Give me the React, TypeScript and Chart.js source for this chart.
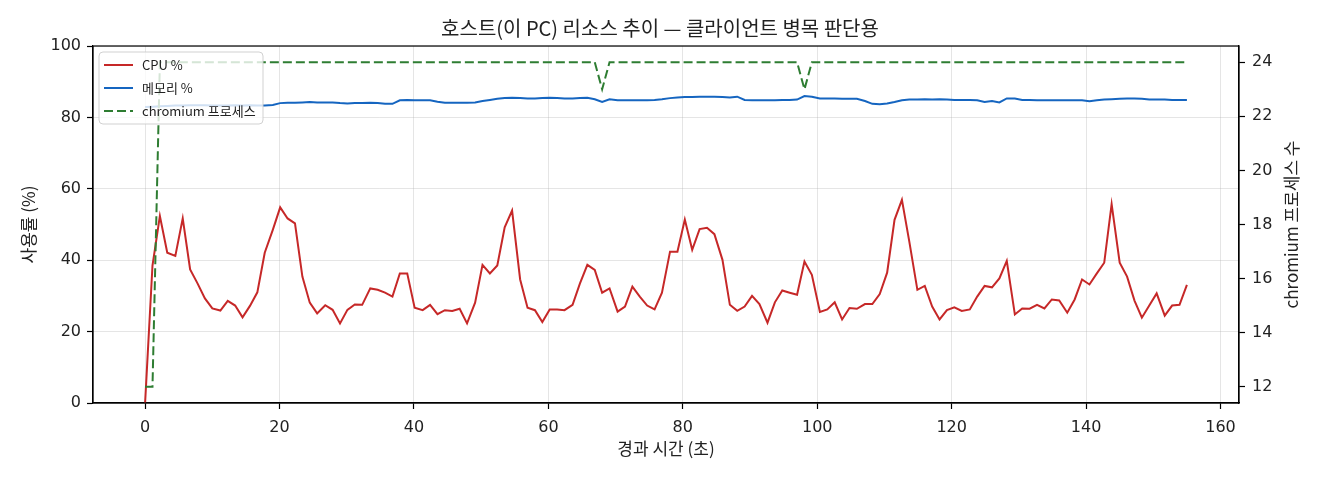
import React, { useEffect, useRef } from "react";
import { Chart, registerables } from "chart.js";

Chart.register(...registerables);

const TITLE = "호스트(이 PC) 리소스 추이 — 클라이언트 병목 판단용";
const X_LABEL = "경과 시간 (초)";
const Y_LEFT_LABEL = "사용률 (%)";
const Y_RIGHT_LABEL = "chromium 프로세스 수";
const SERIES_NAMES = ["CPU %", "메모리 %", "chromium 프로세스"];

// elapsed seconds of each sample
const times = [
  0, 1.1, 2.2, 3.3, 4.5, 5.6, 6.7, 7.8, 8.9, 10.0,
  11.2, 12.3, 13.4, 14.5, 15.6, 16.7, 17.8, 19.0, 20.1, 21.2,
  22.3, 23.4, 24.5, 25.6, 26.8, 27.9, 29.0, 30.1, 31.2, 32.3,
  33.5, 34.6, 35.7, 36.8, 37.9, 39.0, 40.1, 41.3, 42.4, 43.5,
  44.6, 45.7, 46.8, 47.9, 49.1, 50.2, 51.3, 52.4, 53.5, 54.6,
  55.8, 56.9, 58.0, 59.1, 60.2, 61.3, 62.4, 63.6, 64.7, 65.8,
  66.9, 68.0, 69.1, 70.3, 71.4, 72.5, 73.6, 74.7, 75.8, 76.9,
  78.1, 79.2, 80.3, 81.4, 82.5, 83.6, 84.7, 85.9, 87.0, 88.1,
  89.2, 90.3, 91.4, 92.6, 93.7, 94.8, 95.9, 97.0, 98.1, 99.2,
  100.4, 101.5, 102.6, 103.7, 104.8, 105.9, 107.1, 108.2, 109.3, 110.4,
  111.5, 112.6, 113.7, 114.9, 116.0, 117.1, 118.2, 119.3, 120.4, 121.5,
  122.7, 123.8, 124.9, 126.0, 127.1, 128.2, 129.4, 130.5, 131.6, 132.7,
  133.8, 134.9, 136.0, 137.2, 138.3, 139.4, 140.5, 141.6, 142.7, 143.8,
  145.0, 146.1, 147.2, 148.3, 149.4, 150.5, 151.7, 152.8, 153.9, 155.0,
];

const cpu = [
  0, 38.5, 52.4, 42.1, 41.2, 51.7, 37.4, 33.5, 29.3, 26.5,
  25.9, 28.6, 27.3, 24.0, 27.2, 31.0, 42.1, 48.5, 54.8, 51.7,
  50.3, 35.4, 28.1, 25.1, 27.4, 26.1, 22.3, 26.1, 27.6, 27.5,
  32.1, 31.7, 30.9, 29.8, 36.3, 36.3, 26.7, 26.0, 27.5, 24.9,
  26.0, 25.8, 26.4, 22.3, 28.1, 38.7, 36.3, 38.5, 49.2, 53.9,
  34.6, 26.7, 26.0, 22.7, 26.2, 26.2, 26.0, 27.5, 33.5, 38.7,
  37.3, 30.9, 32.1, 25.6, 27.0, 32.6, 29.8, 27.3, 26.2, 30.9,
  42.4, 42.4, 51.4, 42.9, 48.7, 49.1, 47.3, 40.1, 27.5, 25.8,
  27.0, 30.0, 27.7, 22.5, 28.2, 31.5, 30.9, 30.3, 39.6, 35.9,
  25.5, 26.2, 28.2, 23.4, 26.6, 26.4, 27.7, 27.7, 30.5, 36.5,
  51.3, 56.9, 45.2, 31.7, 32.8, 27.0, 23.4, 26.0, 26.8, 25.8,
  26.2, 29.8, 32.8, 32.4, 34.9, 39.8, 24.8, 26.5, 26.4, 27.5,
  26.5, 29.0, 28.7, 25.3, 29.0, 34.6, 33.2, 36.3, 39.3, 55.7,
  39.3, 35.4, 28.7, 23.9, 27.3, 30.7, 24.5, 27.3, 27.5, 33.1,
];

const mem = [
  82.9, 83.0, 83.1, 83.2, 83.3, 83.3, 83.4, 83.4, 83.4, 83.3,
  83.3, 83.3, 83.4, 83.3, 83.4, 83.3, 83.3, 83.5, 84.0, 84.1,
  84.1, 84.2, 84.3, 84.2, 84.2, 84.2, 84.0, 83.9, 84.0, 84.0,
  84.1, 84.0, 83.8, 83.8, 84.8, 84.9, 84.8, 84.8, 84.8, 84.4,
  84.1, 84.1, 84.1, 84.1, 84.2, 84.6, 84.9, 85.2, 85.4, 85.5,
  85.4, 85.3, 85.3, 85.4, 85.5, 85.4, 85.3, 85.3, 85.4, 85.5,
  85.1, 84.3, 85.1, 84.8, 84.8, 84.8, 84.8, 84.8, 84.9, 85.1,
  85.4, 85.6, 85.7, 85.7, 85.8, 85.8, 85.8, 85.7, 85.6, 85.8,
  84.9, 84.8, 84.8, 84.8, 84.8, 84.9, 84.9, 85.0, 86.0, 85.8,
  85.3, 85.3, 85.3, 85.2, 85.2, 85.2, 84.6, 83.8, 83.7, 83.9,
  84.3, 84.8, 85.0, 85.0, 85.1, 85.0, 85.1, 85.0, 84.9, 84.9,
  84.9, 84.8, 84.3, 84.6, 84.2, 85.3, 85.3, 84.9, 84.9, 84.8,
  84.8, 84.8, 84.8, 84.8, 84.8, 84.8, 84.5, 84.8, 85.0, 85.1,
  85.2, 85.3, 85.3, 85.2, 85.0, 85.0, 85.0, 84.9, 84.9, 84.9,
];

const procs = [
  12, 12, 24, 24, 24, 24, 24, 24, 24, 24,
  24, 24, 24, 24, 24, 24, 24, 24, 24, 24,
  24, 24, 24, 24, 24, 24, 24, 24, 24, 24,
  24, 24, 24, 24, 24, 24, 24, 24, 24, 24,
  24, 24, 24, 24, 24, 24, 24, 24, 24, 24,
  24, 24, 24, 24, 24, 24, 24, 24, 24, 24,
  24, 23, 24, 24, 24, 24, 24, 24, 24, 24,
  24, 24, 24, 24, 24, 24, 24, 24, 24, 24,
  24, 24, 24, 24, 24, 24, 24, 24, 23, 24,
  24, 24, 24, 24, 24, 24, 24, 24, 24, 24,
  24, 24, 24, 24, 24, 24, 24, 24, 24, 24,
  24, 24, 24, 24, 24, 24, 24, 24, 24, 24,
  24, 24, 24, 24, 24, 24, 24, 24, 24, 24,
  24, 24, 24, 24, 24, 24, 24, 24, 24, 24,
];

const xTicks = [0, 20, 40, 60, 80, 100, 120, 140, 160];
const leftTicks = [0, 20, 40, 60, 80, 100];
const rightTicks = [12, 14, 16, 18, 20, 22, 24];
const xRange = [-7.75, 162.75];
const leftRange = [0, 100];
const rightRange = [11.4, 24.6];

const FONT = '"Noto Sans CJK KR", "Noto Sans", sans-serif';
const TICK_FONT = '"DejaVu Sans", "Noto Sans CJK KR", sans-serif';
const TEXT = "#222";
const GRID = "rgba(176,176,176,0.33)";
const COLORS = ["#c62828", "#1565c0", "#2e7d32"];
const DASH = [9, 4];

const W = 1320;
const H = 480;

const overlayPlugin = {
  id: "overlay",
  afterDatasetsDraw(chart: any) {
    const { ctx, chartArea: a } = chart;
    ctx.save();
    // frame
    ctx.strokeStyle = "#000";
    ctx.lineWidth = 1.2;
    ctx.setLineDash([]);
    ctx.strokeRect(a.left, a.top, a.right - a.left, a.bottom - a.top);

    // legend
    const bx = a.left + 6;
    const by = a.top + 6;
    const bw = 164;
    const bh = 72;
    const r = 4;
    ctx.beginPath();
    ctx.moveTo(bx + r, by);
    ctx.lineTo(bx + bw - r, by);
    ctx.arcTo(bx + bw, by, bx + bw, by + r, r);
    ctx.lineTo(bx + bw, by + bh - r);
    ctx.arcTo(bx + bw, by + bh, bx + bw - r, by + bh, r);
    ctx.lineTo(bx + r, by + bh);
    ctx.arcTo(bx, by + bh, bx, by + bh - r, r);
    ctx.lineTo(bx, by + r);
    ctx.arcTo(bx, by, bx + r, by, r);
    ctx.closePath();
    ctx.fillStyle = "rgba(255,255,255,0.8)";
    ctx.fill();
    ctx.strokeStyle = "rgba(204,204,204,0.9)";
    ctx.lineWidth = 1;
    ctx.stroke();

    const ds = chart.data.datasets;
    ctx.font = `13px ${FONT}`;
    ctx.textBaseline = "middle";
    ctx.textAlign = "left";
    for (let i = 0; i < ds.length; i++) {
      const y = by + 13 + i * 23;
      ctx.beginPath();
      ctx.strokeStyle = ds[i].borderColor;
      ctx.lineWidth = ds[i].borderWidth;
      ctx.setLineDash(ds[i].borderDash || []);
      ctx.moveTo(bx + 5, y);
      ctx.lineTo(bx + 34, y);
      ctx.stroke();
      ctx.setLineDash([]);
      ctx.fillStyle = TEXT;
      ctx.fillText(ds[i].label, bx + 43, y);
    }

    // right axis title (reads bottom to top)
    ctx.translate(1292, (a.top + a.bottom) / 2);
    ctx.rotate(-Math.PI / 2);
    ctx.font = `17px ${FONT}`;
    ctx.textAlign = "center";
    ctx.textBaseline = "middle";
    ctx.fillStyle = TEXT;
    ctx.fillText(Y_RIGHT_LABEL, 0, 0);
    ctx.restore();
  },
};

export default function App() {
  const ref = useRef<HTMLCanvasElement | null>(null);

  useEffect(() => {
    document.body.style.margin = "0";
    const canvas = ref.current;
    if (!canvas) return;
    Chart.defaults.font.family = FONT;
    Chart.defaults.color = TEXT;

    const pts = (vals: number[]) => times.map((t, i) => ({ x: t, y: vals[i] }));

    const gridOpts = { color: GRID, lineWidth: 1, tickLength: 6, tickColor: "#000", tickWidth: 1.2 };
    const borderOpts = { display: true, color: "#000", width: 1.2 };
    const tickFont = { size: 16, family: TICK_FONT };

    const chart = new Chart(canvas, {
      type: "line",
      data: {
        datasets: [
          {
            label: SERIES_NAMES[0],
            data: pts(cpu),
            yAxisID: "y",
            borderColor: COLORS[0],
            backgroundColor: COLORS[0],
            borderWidth: 2,
            pointRadius: 0,
            tension: 0,
            order: 1,
          },
          {
            label: SERIES_NAMES[1],
            data: pts(mem),
            yAxisID: "y",
            borderColor: COLORS[1],
            backgroundColor: COLORS[1],
            borderWidth: 2,
            pointRadius: 0,
            tension: 0,
            order: 2,
          },
          {
            label: SERIES_NAMES[2],
            data: pts(procs),
            yAxisID: "y1",
            borderColor: COLORS[2],
            backgroundColor: COLORS[2],
            borderWidth: 2,
            borderDash: DASH,
            pointRadius: 0,
            tension: 0,
            order: 0,
          },
        ],
      },
      options: {
        animation: false,
        responsive: false,
        devicePixelRatio: 1,
        layout: { padding: { top: 0, left: 0, right: 0, bottom: 0 } },
        plugins: {
          legend: { display: false },
          tooltip: { enabled: false },
          title: {
            display: true,
            text: TITLE,
            color: TEXT,
            font: { size: 20, weight: "normal", family: FONT, lineHeight: 1.2 },
            padding: { top: 16, bottom: 6 },
            fullSize: true,
            position: "top",
          },
        },
        scales: {
          x: {
            type: "linear",
            position: "bottom",
            min: xRange[0],
            max: xRange[1],
            afterBuildTicks: (s: any) => {
              s.ticks = xTicks.map((v) => ({ value: v }));
            },
            afterFit: (s: any) => {
              s.height = H - 403;
            },
            ticks: { color: TEXT, font: tickFont, padding: 9, maxRotation: 0 },
            grid: gridOpts,
            border: borderOpts,
            title: {
              display: true,
              text: X_LABEL,
              color: TEXT,
              font: { size: 17, lineHeight: 1.2 },
              padding: { top: 0, bottom: 21 },
            },
          },
          y: {
            type: "linear",
            position: "left",
            min: leftRange[0],
            max: leftRange[1],
            afterBuildTicks: (s: any) => {
              s.ticks = leftTicks.map((v) => ({ value: v }));
            },
            afterFit: (s: any) => {
              s.width = 93;
            },
            ticks: { color: TEXT, font: tickFont, padding: 6 },
            grid: gridOpts,
            border: borderOpts,
            title: {
              display: true,
              text: Y_LEFT_LABEL,
              color: TEXT,
              font: { size: 17, lineHeight: 1.2 },
              padding: { top: 18, bottom: 0 },
            },
          },
          y1: {
            type: "linear",
            position: "right",
            min: rightRange[0],
            max: rightRange[1],
            afterBuildTicks: (s: any) => {
              s.ticks = rightTicks.map((v) => ({ value: v }));
            },
            afterFit: (s: any) => {
              s.width = W - 1239;
            },
            ticks: { color: TEXT, font: tickFont, padding: 7 },
            grid: {
              drawOnChartArea: false,
              tickLength: 6,
              tickColor: "#000",
              tickWidth: 1.2,
            },
            border: borderOpts,
          },
        },
      },
      plugins: [overlayPlugin],
    });

    return () => chart.destroy();
  }, []);

  return (
    <canvas
      ref={ref}
      width={W}
      height={H}
      style={{ display: "block", width: W, height: H }}
    />
  );
}
